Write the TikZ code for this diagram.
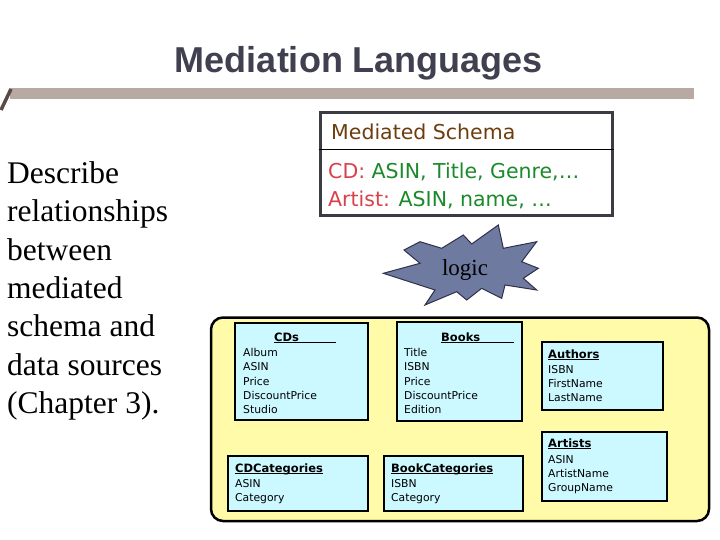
\documentclass[tikz,border=0pt]{standalone}
\usepackage{fontspec}
\setmainfont{Liberation Serif}
\newfontfamily\titlefont{Liberation Sans}
\newfontfamily\schemafont{DejaVu Sans}
\newfontfamily\tblfont{DejaVu Sans}
\definecolor{titlecol}{HTML}{404050}
\definecolor{barcol}{HTML}{B8A9A3}
\definecolor{slashcol}{HTML}{5A4A45}
\definecolor{schemaborder}{HTML}{3C3C44}
\definecolor{schemabrown}{HTML}{6E3D0E}
\definecolor{schemared}{HTML}{D9414A}
\definecolor{schemagreen}{HTML}{1A8A2A}
\definecolor{starfill}{HTML}{6F7AA0}
\definecolor{starline}{HTML}{30304A}
\definecolor{yellowfill}{HTML}{FFFBA8}
\definecolor{cyanfill}{HTML}{CCF8FF}
\newcommand\hdul[2][0pt]{\setbox0\hbox{#2}\ifdim\wd0<#1\setbox0\hbox to #1{#2\hfil}\fi\rlap{\rule[-1.8pt]{\wd0}{0.9pt}}\box0}
\tikzset{
  tblbox/.style={draw=black, line width=2pt, fill=cyanfill, rectangle, inner sep=0pt},
  tblhead/.style={anchor=base west, inner sep=0pt, font=\tblfont\bfseries\fontsize{11.5}{14.3}\selectfont},
  tblitems/.style={anchor=north west, inner sep=0pt, align=left, font=\tblfont\fontsize{10.8}{14.3}\selectfont},
  schematext/.style={anchor=base west, inner sep=0pt, font=\schemafont\fontsize{20.5}{24}\selectfont}
}
\begin{document}
\begin{tikzpicture}[x=1pt,y=-1pt]
\useasboundingbox (0,0) rectangle (720,540);
\fill[white] (0,0) rectangle (720,540);

% title and bar
\node[anchor=base, inner sep=0pt, text=titlecol, font=\titlefont\bfseries\fontsize{36}{40}\selectfont] (title) at (359,73) {Mediation Languages};
\fill[barcol] (10,88.5) rectangle (694,99.5);
\draw[slashcol, line width=3.5pt] (11,89) -- (1,110);

% left description
\node[anchor=north west, inner sep=0pt, align=left, font=\fontsize{31.5}{38.3}\selectfont] (desc) at (7,161.5)
 {Describe\\relationships\\between\\mediated\\schema and\\data sources\\(Chapter 3).};

% mediated schema box
\node[draw=schemaborder, line width=3pt, fill=white, minimum width=292pt, minimum height=103pt, inner sep=0pt] (ms) at (466,164.5) {};
\draw[black, line width=1pt] (ms.west |- 0,150) -- (ms.east |- 0,150);
\node[schematext, text=schemabrown] (mstitle) at (331,140) {Mediated Schema};
\node[schematext, text=schemagreen] (mscd) at (328,178.5) {\textcolor{schemared}{CD:} ASIN, Title, Genre,…};
\node[schematext, text=schemagreen] (msartist) at (328,207) {\textcolor{schemared}{Artist:} ASIN, name, …};

% logic star
\filldraw[fill=starfill, draw=starline, line width=1pt]
 (420,241.7) -- (441.7,248.3) -- (463.3,235) -- (471.7,244) -- (498.3,225) -- (503.3,248.3)
 -- (536.7,241.7) -- (521.7,261.7) -- (538.3,268.3) -- (523.3,278.3) -- (536.7,290)
 -- (505,285) -- (501.7,298.3) -- (481.7,288.3) -- (466.7,300) -- (456.7,291.7)
 -- (425,305) -- (435,290) -- (383.3,273.3) -- (420,263.3) -- (404,250) -- cycle;
\node[inner sep=0pt, anchor=base, font=\fontsize{23}{26}\selectfont] (logic) at (465,275) {logic};

% data sources area
\filldraw[fill=yellowfill, draw=black, line width=2.5pt, rounded corners=12pt] (211,317.5) rectangle (709,521);

% CDs
\draw[tblbox] (235,323) rectangle (368,420);
\node[tblhead] (cdsh) at (274,341) {\hdul[62pt]{CDs}};
\node[tblitems] (cdsi) at (243,348) {Album\\ASIN\\Price\\DiscountPrice\\Studio};

% Books
\draw[tblbox] (397,322) rectangle (522,421);
\node[tblhead] (booksh) at (441,341) {\hdul[73pt]{Books}};
\node[tblitems] (booksi) at (404,348) {Title\\ISBN\\Price\\DiscountPrice\\Edition};

% Authors
\draw[tblbox] (542,342) rectangle (663,410);
\node[tblhead] (authh) at (548,358) {\hdul{Authors}};
\node[tblitems] (authi) at (548,365) {ISBN\\FirstName\\LastName};

% Artists
\draw[tblbox] (542,432) rectangle (667,501);
\node[tblhead] (arth) at (548,447) {\hdul{Artists}};
\node[tblitems] (arti) at (548,455) {ASIN\\ArtistName\\GroupName};

% CDCategories
\draw[tblbox] (228,456) rectangle (368,511);
\node[tblhead] (cdch) at (235,472) {\hdul{CDCategories}};
\node[tblitems] (cdci) at (235,479) {ASIN\\Category};

% BookCategories
\draw[tblbox] (384,456) rectangle (523,511);
\node[tblhead] (bkch) at (391,472) {\hdul{BookCategories}};
\node[tblitems] (bkci) at (391,479) {ISBN\\Category};
\end{tikzpicture}
\end{document}
